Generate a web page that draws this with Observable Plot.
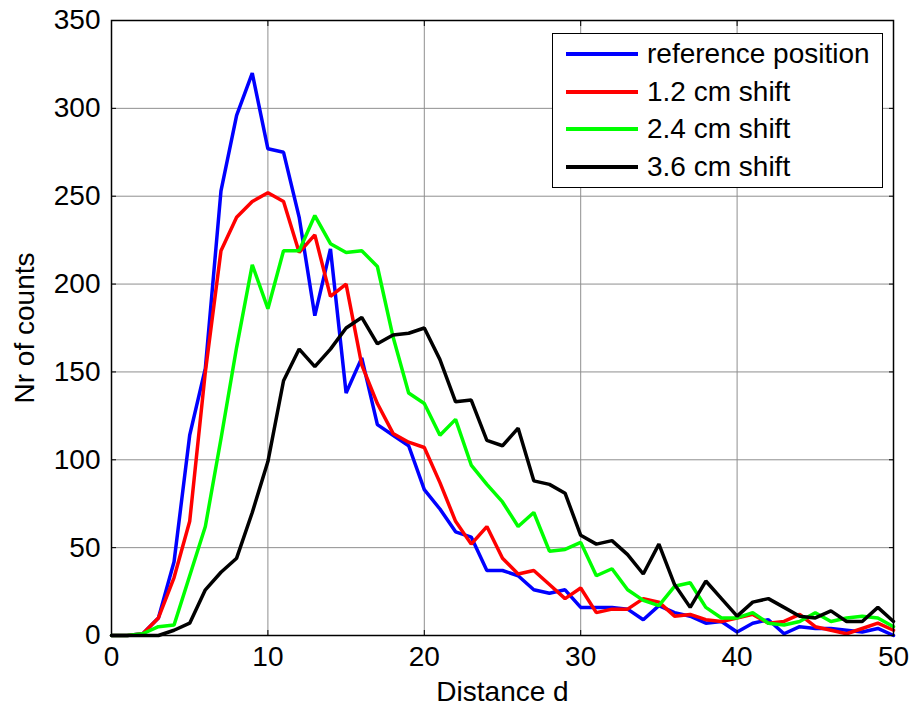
<!DOCTYPE html>
<html>
<head>
<meta charset="utf-8">
<script src="https://cdn.jsdelivr.net/npm/d3@7"></script>
<script src="https://cdn.jsdelivr.net/npm/@observablehq/plot@0.6"></script>
<style>
  body { margin: 0; background: #fff; }
  #wrap { position: relative; width: 912px; height: 706px; background: #fff; }
  #legend {
    position: absolute; left: 552px; top: 33px; width: 331px; height: 155px;
    border: 1.5px solid #000; background: #fff; box-sizing: border-box;
    font-family: "Liberation Sans", Arial, sans-serif; font-size: 28px; color: #000;
  }
  .row { position: absolute; left: 0; height: 37px; display: flex; align-items: center; white-space: nowrap; }
  .sw { width: 72px; height: 4px; margin-left: 13px; margin-right: 9px; }
</style>
</head>
<body>
<div id="wrap"><div id="legend"></div></div>
<script>
// ---- data ----
const distance = [0,1,2,3,4,5,6,7,8,9,10,11,12,13,14,15,16,17,18,19,20,21,22,23,24,25,26,27,28,29,30,31,32,33,34,35,36,37,38,39,40,41,42,43,44,45,46,47,48,49,50];

const referencePosition = [0,0,1,10,42,114,152,253,296,320,277,275,238,182,220,138,158,120,114,108,83,72,59,56,37,37,34,26,24,26,16,16,16,15,9,17,13,11,7,8,2,7,9,1,5,4,4,3,2,4,0];
const shift12 = [0,0,1,10,33,65,150,219,238,247,252,247,218,228,193,200,154,132,115,110,107,87,65,52,62,44,35,37,29,21,27,13,15,15,21,19,11,12,9,8,10,12,7,8,12,5,3,1,4,7,3];
const shift24 = [0,0,1,5,6,34,62,112,164,211,186,219,219,239,223,218,219,210,170,138,132,114,123,97,86,76,62,70,48,49,53,34,38,26,20,17,28,30,16,10,10,13,7,6,8,13,8,10,11,10,5];
const shift36 = [0,0,0,0,3,7,26,36,44,70,99,145,163,153,163,175,181,166,171,172,175,157,133,134,111,108,118,88,86,81,57,52,54,46,35,52,29,16,31,21,11,19,21,16,11,10,14,8,8,16,8];

const seriesNames = ["reference position", "1.2 cm shift", "2.4 cm shift", "3.6 cm shift"];
const seriesColors = ["#0000ff", "#ff0000", "#00ff00", "#000000"];
const seriesValues = [referencePosition, shift12, shift24, shift36];

const xTicks = [0, 10, 20, 30, 40, 50];
const yTicks = [0, 50, 100, 150, 200, 250, 300, 350];

// ---- long table for Plot ----
const rows = [];
seriesNames.forEach((name, i) => {
  distance.forEach((d, j) => rows.push({series: name, d, count: seriesValues[i][j]}));
});

const chart = Plot.plot({
  width: 912,
  height: 706,
  marginLeft: 111,
  marginRight: 19,
  marginTop: 20,
  marginBottom: 71,
  style: {fontFamily: "Liberation Sans, Arial, sans-serif", fontSize: "28px", background: "#fff", color: "#000"},
  x: {domain: [0, 50]},
  y: {domain: [0, 350]},
  color: {domain: seriesNames, range: seriesColors},
  marks: [
    Plot.gridX(xTicks, {stroke: "#8f8f8f", strokeOpacity: 1, strokeWidth: 1}),
    Plot.gridY(yTicks, {stroke: "#8f8f8f", strokeOpacity: 1, strokeWidth: 1}),
    Plot.line(rows, {x: "d", y: "count", z: "series", stroke: "series", strokeWidth: 3.5, strokeLinejoin: "miter"}),
    Plot.axisX(xTicks, {anchor: "bottom", tickSize: 0, tickPadding: 11, label: "Distance d", labelAnchor: "center", labelArrow: "none", labelOffset: 65}),
    Plot.axisY(yTicks, {anchor: "left", tickSize: 0, tickPadding: 11, label: "Nr of counts", labelAnchor: "center", labelArrow: "none", labelOffset: 97}),
    Plot.axisX(xTicks, {anchor: "bottom", tickSize: -5, tickFormat: () => "", label: null}),
    Plot.axisX(xTicks, {anchor: "top", tickSize: -5, tickFormat: () => "", label: null}),
    Plot.axisY(yTicks, {anchor: "left", tickSize: -5, tickFormat: () => "", label: null}),
    Plot.axisY(yTicks, {anchor: "right", tickSize: -5, tickFormat: () => "", label: null}),
    Plot.frame({stroke: "#000", strokeWidth: 1.5})
  ]
});

const wrap = document.getElementById("wrap");
wrap.insertBefore(chart, wrap.firstChild);

const legend = document.getElementById("legend");
seriesNames.forEach((name, i) => {
  const row = document.createElement("div");
  row.className = "row";
  row.style.top = (1.5 + i * 37.5) + "px";
  const sw = document.createElement("div");
  sw.className = "sw";
  sw.style.background = seriesColors[i];
  const label = document.createElement("span");
  label.textContent = name;
  row.appendChild(sw);
  row.appendChild(label);
  legend.appendChild(row);
});
</script>
</body>
</html>
